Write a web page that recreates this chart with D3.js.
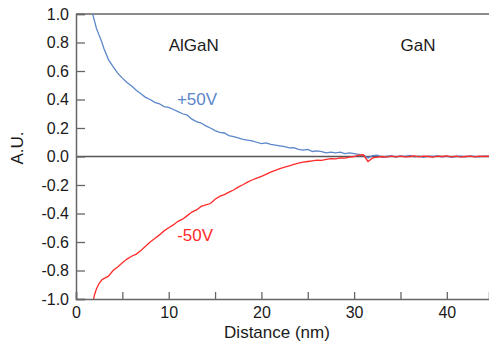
<!DOCTYPE html>
<html>
<head>
<meta charset="utf-8">
<script src="https://cdn.jsdelivr.net/npm/d3@7"></script>
<style>
  body { margin: 0; background: #fff; }
  text { font-family: "Liberation Sans", Arial, sans-serif; }
</style>
</head>
<body>
<div id="chart"></div>
<script>
// Distance (nm) and signal (A.U.)
const bluePos = [
  [1.8, 1.00], [2.0, 0.95], [2.2, 0.90], [2.5, 0.85], [2.8, 0.80], [3.0, 0.76],
  [3.5, 0.68], [4.0, 0.63], [4.5, 0.585], [5.0, 0.55], [5.5, 0.52], [6.0, 0.495],
  [6.5, 0.465], [7.0, 0.44], [7.5, 0.415], [8.0, 0.40], [8.5, 0.38], [9.0, 0.37],
  [9.5, 0.35], [10.0, 0.345], [10.5, 0.33], [11.0, 0.315], [11.5, 0.30], [12.0, 0.29],
  [12.5, 0.262], [13.0, 0.245], [13.5, 0.235], [14.0, 0.215], [14.5, 0.20], [15.0, 0.182],
  [15.5, 0.17], [16.0, 0.165], [16.5, 0.147], [17.0, 0.14], [17.5, 0.13], [18.0, 0.12],
  [18.5, 0.115], [19.0, 0.11], [19.5, 0.10], [20.0, 0.09], [20.5, 0.095], [21.0, 0.085],
  [21.5, 0.08], [22.0, 0.075], [22.5, 0.07], [23.0, 0.06], [23.5, 0.062], [24.0, 0.05],
  [24.5, 0.045], [25.0, 0.05], [25.5, 0.035], [26.0, 0.04], [26.5, 0.035], [27.0, 0.025],
  [27.5, 0.03], [28.0, 0.025], [28.5, 0.03], [29.0, 0.02], [29.5, 0.025], [30.0, 0.02],
  [30.5, 0.015], [31.0, 0.01], [31.5, -0.01], [32.0, 0.006], [32.5, 0.01], [33.0, -0.005],
  [33.5, 0.0], [34.0, 0.005], [34.5, -0.004], [35.0, 0.004], [35.5, 0.0], [36.0, 0.008],
  [36.5, -0.002], [37.0, 0.003], [37.5, -0.005], [38.0, 0.002], [38.5, 0.0], [39.0, 0.004],
  [39.5, -0.003], [40.0, 0.002], [40.5, -0.006], [41.0, 0.0], [41.5, 0.003], [42.0, -0.002],
  [42.5, 0.004], [43.0, 0.0], [43.5, -0.003], [44.0, 0.002], [44.6, 0.0]
];

const redNeg = [
  [1.9, -1.00], [2.0, -0.97], [2.2, -0.93], [2.5, -0.89], [2.8, -0.865], [3.0, -0.857],
  [3.5, -0.84], [4.0, -0.80], [4.5, -0.775], [5.0, -0.745], [5.5, -0.72], [6.0, -0.70],
  [6.5, -0.685], [7.0, -0.66], [7.5, -0.63], [8.0, -0.60], [8.5, -0.575], [9.0, -0.55],
  [9.5, -0.522], [10.0, -0.50], [10.5, -0.48], [11.0, -0.455], [11.5, -0.44], [12.0, -0.415],
  [12.5, -0.39], [13.0, -0.375], [13.5, -0.35], [14.0, -0.34], [14.5, -0.33], [15.0, -0.30],
  [15.5, -0.28], [16.0, -0.268], [16.5, -0.25], [17.0, -0.235], [17.5, -0.215], [18.0, -0.198],
  [18.5, -0.18], [19.0, -0.165], [19.5, -0.152], [20.0, -0.14], [20.5, -0.125], [21.0, -0.11],
  [21.5, -0.097], [22.0, -0.085], [22.5, -0.075], [23.0, -0.065], [23.5, -0.055], [24.0, -0.047],
  [24.5, -0.04], [25.0, -0.035], [25.5, -0.03], [26.0, -0.025], [26.5, -0.027], [27.0, -0.02],
  [27.5, -0.015], [28.0, -0.016], [28.5, -0.01], [29.0, -0.012], [29.5, -0.005], [30.0, 0.0],
  [30.5, 0.01], [31.0, 0.012], [31.5, -0.035], [32.0, -0.01], [32.5, -0.005], [33.0, 0.0],
  [33.5, -0.004], [34.0, 0.002], [34.5, -0.003], [35.0, 0.003], [35.5, -0.002], [36.0, 0.0],
  [36.5, 0.004], [37.0, -0.003], [37.5, 0.002], [38.0, 0.0], [38.5, -0.004], [39.0, 0.002],
  [39.5, 0.0], [40.0, 0.004], [40.5, -0.002], [41.0, 0.002], [41.5, -0.004], [42.0, 0.0],
  [42.5, 0.003], [43.0, -0.002], [43.5, 0.002], [44.0, 0.0], [44.6, 0.002]
];

const xTicks = [0, 5, 10, 15, 20, 25, 30, 35, 40];
const yTicks = [-1.0, -0.8, -0.6, -0.4, -0.2, 0.0, 0.2, 0.4, 0.6, 0.8, 1.0];

const width = 489, height = 345;
const margin = { top: 14, right: 0, bottom: 46, left: 76 };

const svg = d3.select('#chart')
  .append('svg')
  .attr('width', width)
  .attr('height', height);

const x = d3.scaleLinear()
  .domain([0, 44.55])
  .range([margin.left, width - margin.right]);

const y = d3.scaleLinear()
  .domain([-1, 1])
  .range([height - margin.bottom, margin.top]);

const axisColor = '#666';
const textColor = '#1a1a1a';

// clip curves to the plot box
svg.append('clipPath').attr('id', 'plot')
  .append('rect')
  .attr('x', margin.left).attr('y', margin.top)
  .attr('width', width - margin.left - margin.right)
  .attr('height', height - margin.top - margin.bottom);

// frame top
svg.append('line')
  .attr('x1', margin.left).attr('x2', width)
  .attr('y1', margin.top).attr('y2', margin.top)
  .attr('stroke', axisColor).attr('stroke-width', 1.5);

// zero line
svg.append('line')
  .attr('x1', margin.left).attr('x2', width)
  .attr('y1', y(0)).attr('y2', y(0))
  .attr('stroke', '#555').attr('stroke-width', 1.5);

const line = d3.line()
  .x(d => x(d[0]))
  .y(d => y(d[1]));

svg.append('path')
  .datum(bluePos)
  .attr('clip-path', 'url(#plot)')
  .attr('fill', 'none')
  .attr('stroke', '#5b86c9')
  .attr('stroke-width', 1.3)
  .attr('d', line);

svg.append('path')
  .datum(redNeg)
  .attr('clip-path', 'url(#plot)')
  .attr('fill', 'none')
  .attr('stroke', '#ff2a2a')
  .attr('stroke-width', 1.3)
  .attr('d', line);

// axes
const xAxis = svg.append('g')
  .attr('transform', `translate(0,${height - margin.bottom})`)
  .call(d3.axisBottom(x)
    .tickValues(xTicks)
    .tickSize(-7)
    .tickPadding(8)
    .tickFormat(d => d % 10 === 0 ? d : ''));

const yAxis = svg.append('g')
  .attr('transform', `translate(${margin.left},0)`)
  .call(d3.axisLeft(y)
    .tickValues(yTicks)
    .tickSize(-9)
    .tickPadding(7)
    .tickFormat(d => d3.format('.1f')(d).replace('−', '-')));

[xAxis, yAxis].forEach(g => {
  g.select('.domain').attr('stroke', axisColor).attr('stroke-width', 1.5);
  g.selectAll('.tick line').attr('stroke', axisColor).attr('stroke-width', 1.3);
  g.selectAll('.tick text')
    .attr('fill', textColor)
    .style('font-size', '16px')
    .style('font-family', '"Liberation Sans", Arial, sans-serif');
});

// axis titles
svg.append('text')
  .attr('x', 277)
  .attr('y', 338)
  .attr('text-anchor', 'middle')
  .attr('fill', textColor)
  .style('font-size', '17px')
  .text('Distance (nm)');

svg.append('text')
  .attr('transform', 'translate(23,148) rotate(-90)')
  .attr('text-anchor', 'middle')
  .attr('fill', textColor)
  .style('font-size', '17px')
  .text('A.U.');

// annotations
const notes = [
  { t: 'AlGaN', x: 12.7, y: 0.78, c: textColor },
  { t: 'GaN', x: 36.9, y: 0.78, c: textColor },
  { t: '+50V', x: 13.05, y: 0.405, c: '#5b86c9' },
  { t: '-50V', x: 12.85, y: -0.55, c: '#ff2a2a' }
];

svg.selectAll('.note')
  .data(notes)
  .join('text')
  .attr('class', 'note')
  .attr('x', d => x(d.x))
  .attr('y', d => y(d.y))
  .attr('dy', '0.35em')
  .attr('text-anchor', 'middle')
  .attr('fill', d => d.c)
  .style('font-size', '17px')
  .text(d => d.t);
</script>
</body>
</html>
